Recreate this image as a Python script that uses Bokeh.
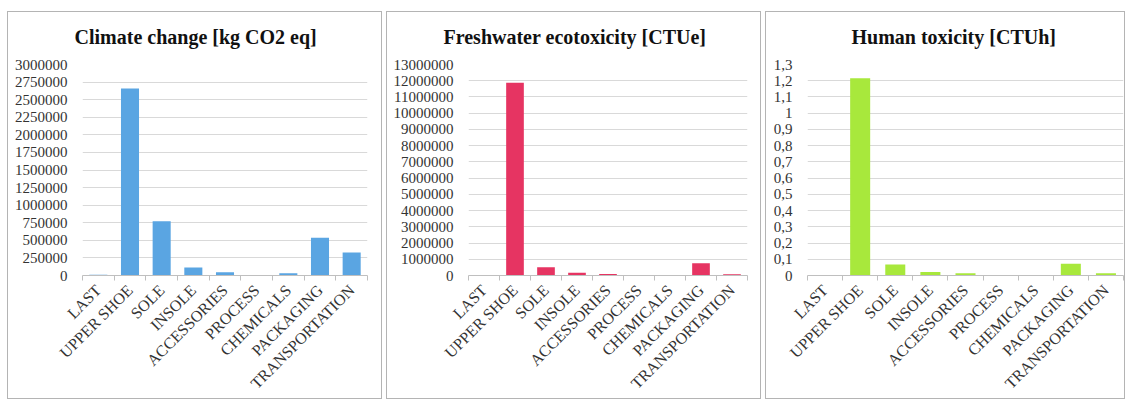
from bokeh.plotting import figure
from bokeh.layouts import row
from bokeh.models import Range1d, FixedTicker, ColumnDataSource, Title
from bokeh.embed import file_html
from bokeh.resources import INLINE

categories = ["LAST", "UPPER SHOE", "SOLE", "INSOLE", "ACCESSORIES",
              "PROCESS", "CHEMICALS", "PACKAGING", "TRANSPORTATION"]

climate_values = [10000, 2660000, 770000, 112000, 46000, 0, 33000, 535000, 328000]
freshwater_values = [0, 11880000, 510000, 170000, 100000, 0, 0, 760000, 80000]
human_values = [0, 1.215, 0.068, 0.022, 0.014, 0, 0, 0.072, 0.014]

climate_ticks = [0, 250000, 500000, 750000, 1000000, 1250000, 1500000, 1750000,
                 2000000, 2250000, 2500000, 2750000, 3000000]
climate_labels = ["0", "250000", "500000", "750000", "1000000", "1250000", "1500000",
                  "1750000", "2000000", "2250000", "2500000", "2750000", "3000000"]
fresh_ticks = [0, 1000000, 2000000, 3000000, 4000000, 5000000, 6000000, 7000000,
               8000000, 9000000, 10000000, 11000000, 12000000, 13000000]
fresh_labels = ["0", "1000000", "2000000", "3000000", "4000000", "5000000", "6000000",
                "7000000", "8000000", "9000000", "10000000", "11000000", "12000000", "13000000"]
human_ticks = [0, 0.1, 0.2, 0.3, 0.4, 0.5, 0.6, 0.7, 0.8, 0.9, 1, 1.1, 1.2, 1.3]
human_labels = ["0", "0,1", "0,2", "0,3", "0,4", "0,5", "0,6", "0,7", "0,8", "0,9",
                "1", "1,1", "1,2", "1,3"]

titles = ["Climate change [kg CO2 eq]", "Freshwater ecotoxicity [CTUe]", "Human toxicity [CTUh]"]
colors = ["#5AA5E2", "#E63462", "#A8E83C"]

FONT = "Liberation Serif"
TOP = 52
FRAME_H = 211


def make_panel(title, values, color, ticks, labels, width, bl, br, toff):
    n = len(categories)
    xs = list(range(n))
    height = TOP + FRAME_H + 125
    p = figure(width=width, height=height, output_backend="svg", toolbar_location=None,
               x_range=Range1d(-0.5, n - 0.5), y_range=Range1d(0, ticks[-1]),
               min_border_left=bl, min_border_right=br, min_border_top=TOP,
               min_border_bottom=height - TOP - FRAME_H)
    p.title.visible = False
    p.styles = {"border": "1px solid #b4b4b4", "box-sizing": "border-box"}
    p.outline_line_color = None
    p.background_fill_color = "white"
    p.border_fill_color = "white"

    # spacer below the title, then the title itself
    p.add_layout(Title(text=" ", text_font_size="1px", standoff=4), "above")
    p.add_layout(Title(text=title, text_font=FONT, text_font_style="bold",
                       text_font_size="20px", text_color="#111111",
                       align="left", offset=toff, standoff=20), "above")

    src = ColumnDataSource(dict(x=xs, top=values))
    p.vbar(x="x", top="top", width=0.57, bottom=0, source=src,
           fill_color=color, line_color=None)

    p.xgrid.grid_line_color = None
    p.ygrid.grid_line_color = "#d9d9d9"
    p.ygrid.ticker = FixedTicker(ticks=ticks)

    yax = p.yaxis[0]
    yax.ticker = FixedTicker(ticks=ticks)
    yax.major_label_overrides = {t: l for t, l in zip(ticks, labels)}
    yax.axis_line_color = None
    yax.major_tick_line_color = None
    yax.minor_tick_line_color = None
    yax.major_label_text_font = FONT
    yax.major_label_text_font_size = "15px"
    yax.major_label_text_color = "#333333"
    yax.major_label_standoff = 9

    xax = p.xaxis[0]
    xax.ticker = FixedTicker(ticks=xs, minor_ticks=[i - 0.5 for i in range(n + 1)])
    xax.major_label_overrides = {i: c for i, c in enumerate(categories)}
    xax.major_label_orientation = 0.785398
    xax.axis_line_color = "#bfbfbf"
    xax.major_tick_line_color = None
    xax.minor_tick_line_color = "#bfbfbf"
    xax.minor_tick_out = 5
    xax.minor_tick_in = 0
    xax.major_label_text_font = FONT
    xax.major_label_text_font_size = "16px"
    xax.major_label_text_color = "#333333"
    xax.major_label_standoff = 6
    return p


p1 = make_panel(titles[0], climate_values, colors[0], climate_ticks, climate_labels, 375, 74, 16, -8)
p2 = make_panel(titles[1], freshwater_values, colors[1], fresh_ticks, fresh_labels, 375, 81, 15, -25)
p3 = make_panel(titles[2], human_values, colors[2], human_ticks, human_labels, 360, 41, 3, 44)

layout = row(p1, p2, p3, spacing=4)
layout.styles = {"margin-top": "11px", "margin-left": "7px"}

open("out.html", "w").write(file_html(layout, INLINE))
